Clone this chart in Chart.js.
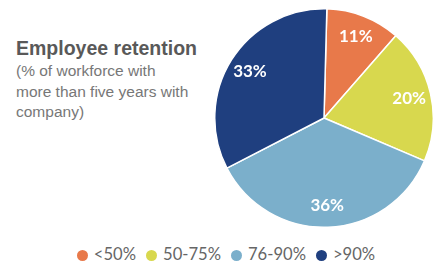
<!DOCTYPE html>
<html>
<head>
<meta charset="utf-8">
<script src="https://cdn.jsdelivr.net/npm/chart.js@4"></script>
<style>
  html, body { margin: 0; padding: 0; background: #fff; }
  body { width: 435px; height: 265px; position: relative; overflow: hidden; font-family: 'Liberation Sans', Arial, sans-serif; }
  #titulo { position: absolute; left: 16px; top: 37px; font-size: 19.5px; font-weight: 700; color: #595959; }
  #sub { position: absolute; left: 16px; top: 61px; font-size: 15.5px; line-height: 20.5px; color: #777; }
  #wrap { position: absolute; left: 213px; top: 0; width: 222px; height: 236px; }
  #legenda { position: absolute; left: 0; width: 452px; top: 244px; text-align: center; font-family: Lato, sans-serif; font-size: 16.6px; color: #666; }
  #legenda span.item { margin: 0 5px; white-space: nowrap; }
  #legenda span.dot { display: inline-block; width: 11px; height: 11px; border-radius: 50%; margin-right: 6px; vertical-align: -1px; }
</style>
</head>
<body>
<div id="titulo">Employee retention</div>
<div id="sub">(% of workforce with<br>more than five years with<br>company)</div>
<div id="wrap"><canvas id="chartPie"></canvas></div>
<div id="legenda"></div>
<script>
const faixas = ['<50%', '50-75%', '76-90%', '>90%'];
const valores = [11, 20, 36, 33];
const cores = ['#E8794A', '#D8D84E', '#7BAFCB', '#1F3F7F'];

document.getElementById('legenda').innerHTML = faixas.map((f, i) =>
  `<span class="item"><span class="dot" style="background:${cores[i]}"></span>${f}</span>`).join('');

// rótulos brancos dentro das fatias
const rotuloFatia = {
  id: 'rotuloFatia',
  afterDatasetsDraw(chart) {
    const meta = chart.getDatasetMeta(0);
    const ctx = chart.ctx;
    ctx.save();
    ctx.font = '700 17px Lato, sans-serif';
    ctx.fillStyle = '#fff';
    ctx.textAlign = 'center';
    ctx.textBaseline = 'middle';
    meta.data.forEach((arc, i) => {
      const a = (arc.startAngle + arc.endAngle) / 2;
      const r = arc.outerRadius * 0.8;
      ctx.fillText(valores[i] + '%', arc.x + Math.cos(a) * r, arc.y + Math.sin(a) * r);
    });
    ctx.restore();
  }
};

new Chart(document.getElementById('chartPie'), {
  type: 'pie',
  data: { labels: faixas, datasets: [{ data: valores, backgroundColor: cores, borderColor: '#fff', borderWidth: 1.5, hoverOffset: 0 }] },
  plugins: [rotuloFatia],
  options: {
    responsive: true, maintainAspectRatio: false, animation: false,
    rotation: 1.5,
    layout: { padding: { top: 8, bottom: 8, left: 0, right: 0 } },
    plugins: { legend: { display: false }, tooltip: { enabled: false } }
  }
});
</script>
</body>
</html>
